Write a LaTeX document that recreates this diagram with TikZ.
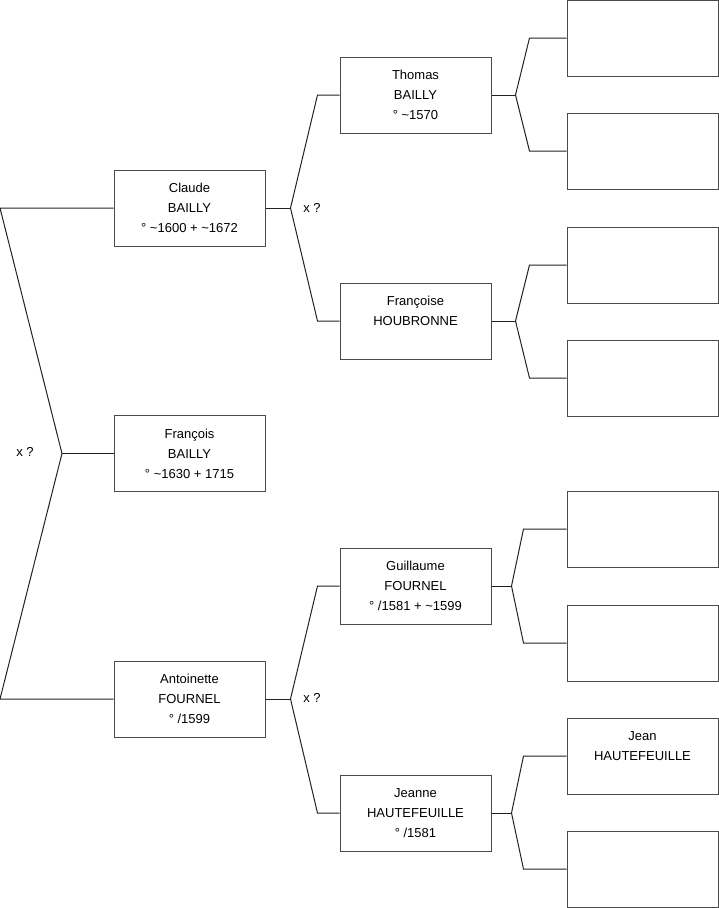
\documentclass[tikz,border=0pt]{standalone}
\usepackage{fontspec}
\setmainfont{Liberation Sans}
\usepackage{tikz}
\usetikzlibrary{positioning,calc}
\definecolor{Frame}{HTML}{4A4A4A}
\definecolor{Wire}{HTML}{222222}
\tikzset{
  personbox/.style={draw=Frame, line width=1pt, fill=white, align=center, minimum width=151pt, minimum height=76pt, inner sep=0pt, font=\fontsize{13}{20}\selectfont},
  couple/.style={font=\fontsize{13}{20}\selectfont, inner sep=0pt},
  link/.style={draw=Wire, line width=1pt}
}
\begin{document}
\begin{tikzpicture}[x=1pt, y=-1pt]
  \useasboundingbox (0,0) rectangle (719,908);

  % generation 1
  \node[personbox] (claude) at (189.5,208) {Claude\\BAILLY\\° \textasciitilde1600 + \textasciitilde1672};
  \node[personbox] (francois) at (189.5,453.5) {François\\BAILLY\\° \textasciitilde1630 + 1715};
  \node[personbox] (antoinette) at (189.5,699) {Antoinette\\FOURNEL\\° /1599};

  % generation 2
  \node[personbox] (thomas) at (415.5,95) {Thomas\\BAILLY\\° \textasciitilde1570};
  \node[personbox] (francoise) at (415.5,321) {Françoise\\HOUBRONNE\\\mbox{}};
  \node[personbox] (guillaume) at (415.5,586) {Guillaume\\FOURNEL\\° /1581 + \textasciitilde1599};
  \node[personbox] (jeanne) at (415.5,813) {Jeanne\\HAUTEFEUILLE\\° /1581};

  % generation 3
  \node[personbox] (leafa) at (642.5,38) {};
  \node[personbox] (leafb) at (642.5,151) {};
  \node[personbox] (leafc) at (642.5,265) {};
  \node[personbox] (leafd) at (642.5,378) {};
  \node[personbox] (leafe) at (642.5,529) {};
  \node[personbox] (leaff) at (642.5,643) {};
  \node[personbox] (jean) at (642.5,756) {Jean\\HAUTEFEUILLE\\\mbox{}};
  \node[personbox] (leafh) at (642.5,869) {};

  % marriage marks
  \node[couple] (xleft) at (25,452) {x ?};
  \node[couple] (xclaude) at (312,208) {x ?};
  \node[couple] (xantoinette) at (312,698) {x ?};

  % forks
  \coordinate (fork0) at (62,453.5);
  \draw[link] (claude.west) -- (0,208) -- (fork0) -- (0,699) -- (antoinette.west);
  \draw[link] (fork0) -- (francois.west);

  \draw[link] (claude.east) -- ++(25,0) coordinate (fork1);
  \draw[link] (fork1) -- ([xshift=-22pt]thomas.west) -- (thomas.west);
  \draw[link] (fork1) -- ([xshift=-22pt]francoise.west) -- (francoise.west);

  \draw[link] (antoinette.east) -- ++(25,0) coordinate (fork2);
  \draw[link] (fork2) -- ([xshift=-22pt]guillaume.west) -- (guillaume.west);
  \draw[link] (fork2) -- ([xshift=-22pt]jeanne.west) -- (jeanne.west);

  \draw[link] (thomas.east) -- ++(24,0) coordinate (fork3);
  \draw[link] (fork3) -- ([xshift=-37pt]leafa.west) -- (leafa.west);
  \draw[link] (fork3) -- ([xshift=-37pt]leafb.west) -- (leafb.west);

  \draw[link] (francoise.east) -- ++(24,0) coordinate (fork4);
  \draw[link] (fork4) -- ([xshift=-37pt]leafc.west) -- (leafc.west);
  \draw[link] (fork4) -- ([xshift=-37pt]leafd.west) -- (leafd.west);

  \draw[link] (guillaume.east) -- ++(20,0) coordinate (fork5);
  \draw[link] (fork5) -- ([xshift=-43pt]leafe.west) -- (leafe.west);
  \draw[link] (fork5) -- ([xshift=-43pt]leaff.west) -- (leaff.west);

  \draw[link] (jeanne.east) -- ++(20,0) coordinate (fork6);
  \draw[link] (fork6) -- ([xshift=-43pt]jean.west) -- (jean.west);
  \draw[link] (fork6) -- ([xshift=-43pt]leafh.west) -- (leafh.west);
\end{tikzpicture}
\end{document}
